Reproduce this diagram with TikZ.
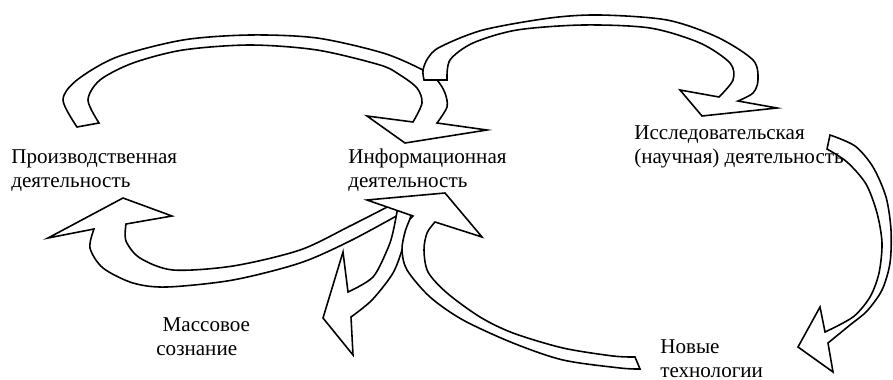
\documentclass[tikz,border=0pt]{standalone}
\usepackage{fontspec}
\setmainfont{Liberation Serif}
\tikzset{
  nadpis/.style={anchor=base west,align=left,inner sep=0pt,font=\fontsize{12}{13.1}\selectfont},
  strelka/.style={draw,fill=white,line width=0.9pt},
}
\begin{document}
\begin{tikzpicture}[x=0.02cm,y=-0.02cm]
  \useasboundingbox (0,0) rectangle (893,379);
  % 1. verhnie strelki
  \draw[strelka] plot[smooth] coordinates {(77,127) (63,100) (77,80) (117,57) (183,40) (250,35) (317,38) (383,53) (423,70) (437,80) (445,93) (447,107) (437,123)}
    -- (487,130) -- (405,143) -- (367,116) -- (413,122)
    -- plot[smooth] coordinates {(413,122) (422,103) (417,88) (400,75) (380,65) (317,50) (250,45) (183,50) (133,63) (100,80) (88,100) (99,123)} -- cycle;
  \draw[strelka] plot[smooth] coordinates {(447,80) (450,60) (473,43) (517,30) (583,25) (650,28) (700,43) (730,63) (733,80) (719,97)}
    -- (680,90) -- (702,116) -- (777,108) -- (738,101)
    -- plot[smooth] coordinates {(738,101) (753,93) (758,80) (753,60) (717,37) (667,20) (600,15) (550,18) (483,30) (440,47) (428,58) (423,70) (424,80)} -- cycle;
  % 2. pravaya strelka
  \draw[strelka] plot[smooth] coordinates {(830,135) (855,146) (873,167) (886,197) (891,230) (890,263) (882,290) (867,311) (850,325) (828,343)}
    -- (833,372) -- (798,347) -- (820,307) -- (825,332)
    -- plot[smooth] coordinates {(825,332) (853,317) (870,297) (879,273) (882,243) (877,213) (866,184) (847,162) (827,149)} -- cycle;
  % 3. nizhnie strelki
  \draw[strelka] plot[smooth] coordinates {(400,214) (350,241) (300,263) (233,280) (167,287) (133,283) (103,268) (90,248) (94,229)}
    -- (48,238) -- (123,198) -- (172,216) -- (126,224)
    -- plot[smooth] coordinates {(126,224) (126,241) (140,258) (173,270) (233,266) (300,250) (350,226) (395,203)} -- cycle;
  \draw[strelka] plot[smooth] coordinates {(399,202) (397,212) (393,232) (388,248) (373,277) (348,292)}
    -- (343,252) -- (323,318) -- (353,355) -- (351,317)
    -- plot[smooth] coordinates {(351,317) (372,300) (393,273) (403,247) (408,228) (412,210)} -- cycle;
  \draw[strelka] (640,369) -- (635,357)
    -- plot[smooth] coordinates {(635,357) (613,356) (563,348) (513,333) (480,317) (447,293) (428,272) (424,250) (427,233) (435,222)}
    -- (482,237) -- (445,193) -- (367,200) -- (413,216)
    -- plot[smooth] coordinates {(410,219) (405,232) (402,250) (407,270) (430,297) (463,320) (513,343) (563,360) (620,368) (640,369)} -- cycle;
  % 4. nadpisi
  \node[nadpis] (proizv) at (11,187) {Производственная\\деятельность};
  \node[nadpis] (inform) at (348,187) {Информационная\\деятельность};
  \node[nadpis] (issled) at (634,163) {Исследовательская\\(научная) деятельность};
  \node[nadpis] (massov) at (156,355) {\hspace*{0.3em}Массовое\\сознание};
  \node[nadpis] (novye) at (660,377) {Новые\\технологии};
\end{tikzpicture}
\end{document}
